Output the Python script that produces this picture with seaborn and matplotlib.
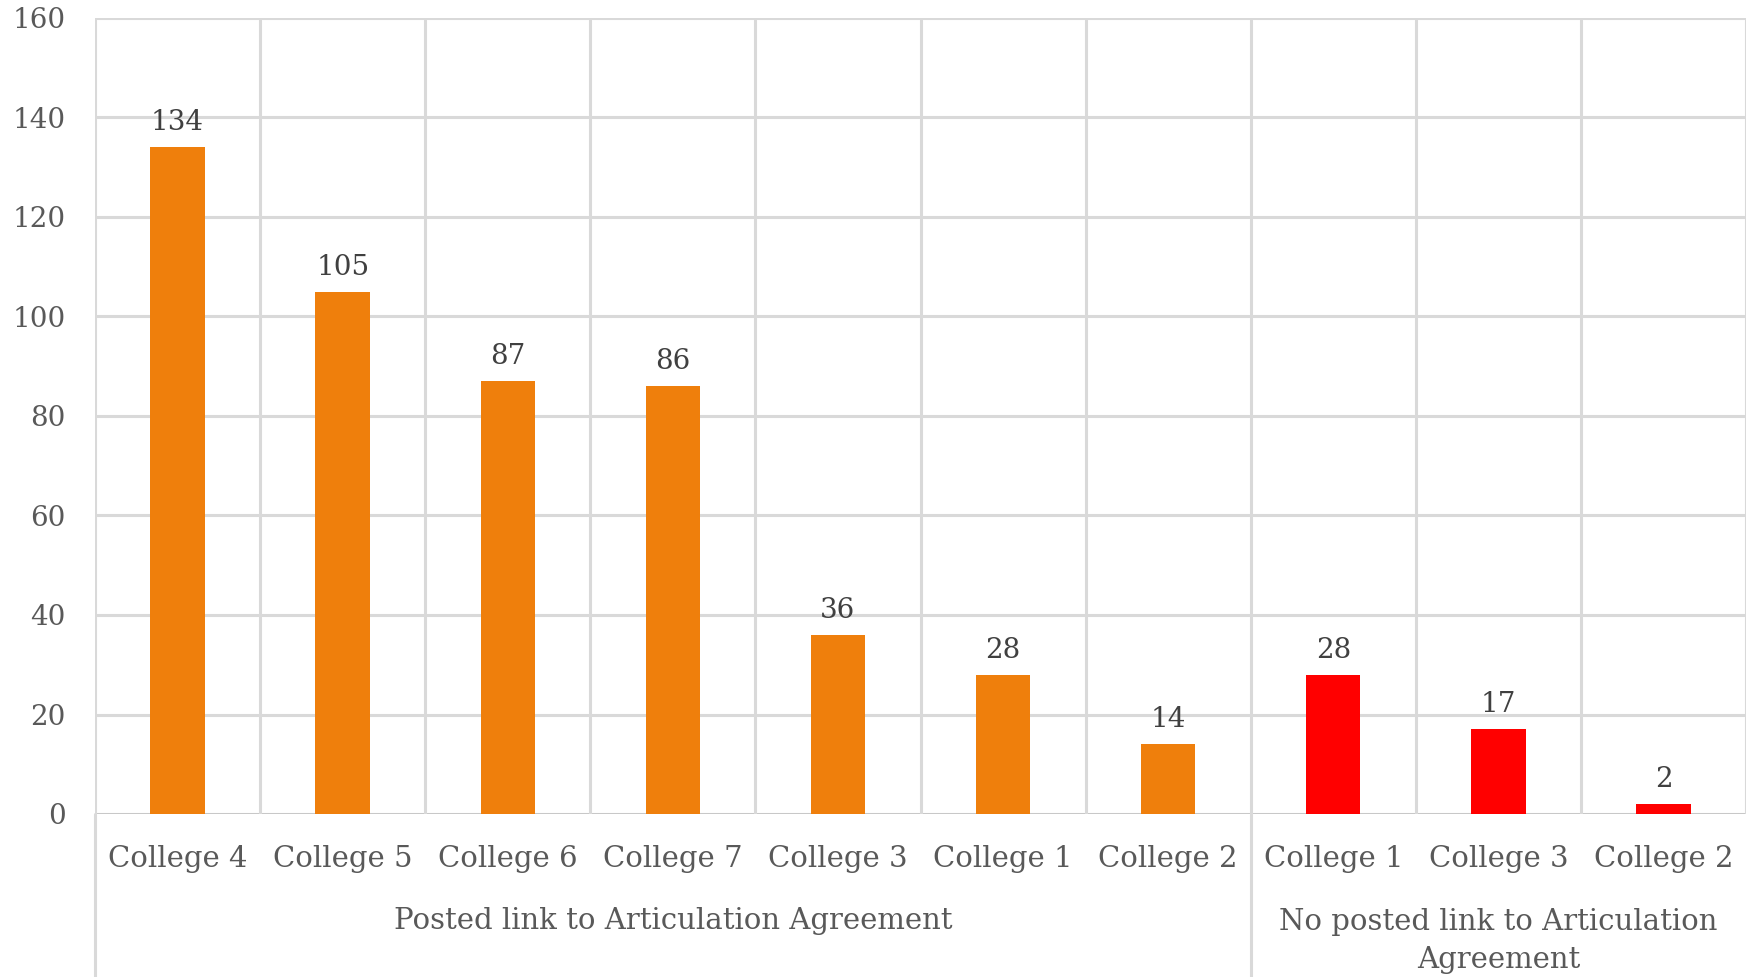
import matplotlib
matplotlib.use("Agg")
import matplotlib.pyplot as plt
import matplotlib.transforms as mtransforms
import seaborn as sns
import pandas as pd

# ---- data ----
group_names = ["Posted link to Articulation Agreement",
               "No posted link to Articulation\nAgreement"]
posted_colleges = ["College 4", "College 5", "College 6", "College 7",
                   "College 3", "College 1", "College 2"]
posted_values = [134, 105, 87, 86, 36, 28, 14]
noposted_colleges = ["College 1", "College 3", "College 2"]
noposted_values = [28, 17, 2]
group_colors = ["#EF7F0C", "#FF0000"]
y_ticks = [0, 20, 40, 60, 80, 100, 120, 140, 160]

# ---- build table ----
rows = []
for g, (cols, vals) in enumerate([(posted_colleges, posted_values),
                                  (noposted_colleges, noposted_values)]):
    for c, v in zip(cols, vals):
        rows.append({"key": f"{g}|{c}", "college": c, "value": v,
                     "group": group_names[g]})
df = pd.DataFrame(rows)
order = list(df["key"])
n = len(order)

sns.set_theme(style="white")
plt.rcParams["font.family"] = ["DejaVu Serif", "DejaVu Sans"]

W, H = 1750, 977
fig = plt.figure(figsize=(W / 100, H / 100), dpi=100)
left_px, right_px, top_px, zero_px = 95, 1746, 18, 814
ax = fig.add_axes([left_px / W, 1 - zero_px / H,
                   (right_px - left_px) / W, (zero_px - top_px) / H])

sns.barplot(data=df, x="key", y="value", hue="group", order=order,
            hue_order=group_names,
            palette=dict(zip(group_names, group_colors)),
            dodge=False, width=0.33, saturation=1, legend=False,
            linewidth=0, ax=ax, zorder=3)

ax.set_xlim(-0.5, n - 0.5)
ax.set_ylim(0, 160)
ax.set_yticks(y_ticks)
ax.set_xticks(range(n))
ax.set_xticklabels(list(df["college"]))
ax.set_xlabel("")
ax.set_ylabel("")

for s in ax.spines.values():
    s.set_visible(False)

grid_c = "#D9D9D9"
for y in y_ticks:
    ax.axhline(y, color=grid_c if y > 0 else "#C8C8C8", lw=2.2, zorder=1)
for i in range(n + 1):
    ax.axvline(i - 0.5, color=grid_c, lw=2.2, zorder=1)

# lines extending down below the axis (left edge and group separator)
bottom_frac = -(H - zero_px) / (zero_px - top_px)
for xb in [-0.5, len(posted_values) - 0.5]:
    ax.axvline(xb, ymin=bottom_frac, ymax=0, color=grid_c, lw=2.2,
               clip_on=False, zorder=1)

ax.tick_params(axis="x", length=0, pad=22, labelsize=21, labelcolor="#595959")
ax.tick_params(axis="y", length=0, pad=21, labelsize=20, labelcolor="#595959")

for cont in ax.containers:
    ax.bar_label(cont, padding=8, fontsize=20, color="#404040")

trans = mtransforms.blended_transform_factory(ax.transData, ax.transAxes)
centers = [(len(posted_values) - 1) / 2,
           len(posted_values) + (len(noposted_values) - 1) / 2]
ypos = [-(921 - zero_px) / (zero_px - top_px),
        -(941 - zero_px) / (zero_px - top_px)]
for cx, yy, name in zip(centers, ypos, group_names):
    ax.text(cx, yy, name, transform=trans, ha="center", va="center",
            fontsize=21, color="#595959", linespacing=1.45)

fig.savefig("out.png", dpi=100, facecolor="white")
